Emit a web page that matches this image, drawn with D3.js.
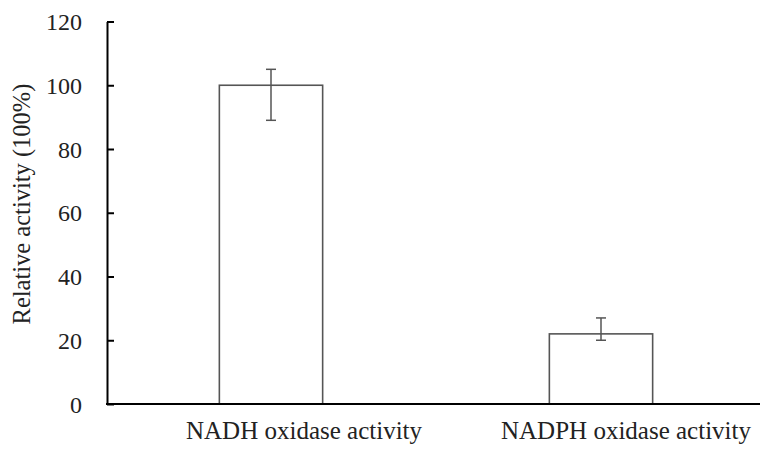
<!DOCTYPE html>
<html><head><meta charset="utf-8">
<script src="https://cdn.jsdelivr.net/npm/d3@7"></script>
<style>body{margin:0;background:#fff}svg{display:block}
svg text{font-family:"Liberation Serif","DejaVu Serif","Times New Roman",serif !important;}</style>
</head><body>
<svg id="c" width="761" height="453"></svg>
<script>
const categories = ["NADH oxidase activity", "NADPH oxidase activity"];
const values = [100, 22];
const errLow = [89, 20];
const errHigh = [105, 27];
const yTicks = [0, 20, 40, 60, 80, 100, 120];

const svg = d3.select("#c");
const x = d3.scaleBand().domain(categories).range([106, 766]).padding(0);
const y = d3.scaleLinear().domain([0, 120]).range([404, 21.5]);
const barW = x.bandwidth() * 0.313;
const cx = d => x(d) + x.bandwidth() / 2;

// bars
svg.selectAll("rect.bar").data(categories).join("rect")
  .attr("x", d => cx(d) - barW / 2)
  .attr("y", (d, i) => y(values[i]))
  .attr("width", barW)
  .attr("height", (d, i) => y(0) - y(values[i]))
  .attr("fill", "#fff").attr("stroke", "#555").attr("stroke-width", 1.6);

// error bars
const eb = svg.selectAll("g.err").data(categories).join("g")
  .attr("stroke", "#555").attr("stroke-width", 1.5);
eb.append("line").attr("x1", d => cx(d)).attr("x2", d => cx(d))
  .attr("y1", (d, i) => y(errLow[i])).attr("y2", (d, i) => y(errHigh[i]));
eb.append("line").attr("x1", d => cx(d) - 5).attr("x2", d => cx(d) + 5)
  .attr("y1", (d, i) => y(errLow[i])).attr("y2", (d, i) => y(errLow[i]));
eb.append("line").attr("x1", d => cx(d) - 5).attr("x2", d => cx(d) + 5)
  .attr("y1", (d, i) => y(errHigh[i])).attr("y2", (d, i) => y(errHigh[i]));

// y axis
const ya = svg.append("g").attr("transform", "translate(107,0)")
  .call(d3.axisLeft(y).tickValues(yTicks).tickSize(-7).tickPadding(25).tickSizeOuter(0));
ya.select(".domain").attr("stroke", "#000").attr("stroke-width", 2);
ya.selectAll(".tick line").attr("stroke", "#000").attr("stroke-width", 2);
ya.selectAll(".tick text").style("font-size", "24px").attr("fill", "#222").attr("dy", "0.34em");

// x axis line
svg.append("line").attr("x1", 106).attr("x2", 760).attr("y1", y(0)).attr("y2", y(0))
  .attr("stroke", "#000").attr("stroke-width", 2);

// x labels
const labelOffsets = [33, 25];
svg.selectAll("text.xl").data(categories).join("text")
  .attr("x", (d, i) => cx(d) + labelOffsets[i])
  .attr("y", 439)
  .attr("text-anchor", "middle")
  .style("font-size", "25px").attr("fill", "#222")
  .text(d => d);

// y label
svg.append("text")
  .attr("transform", "translate(30," + 204 + ") rotate(-90)")
  .attr("text-anchor", "middle")
  .style("font-size", "24.5px").attr("fill", "#222")
  .text("Relative activity (100%)");
</script>
</body></html>
